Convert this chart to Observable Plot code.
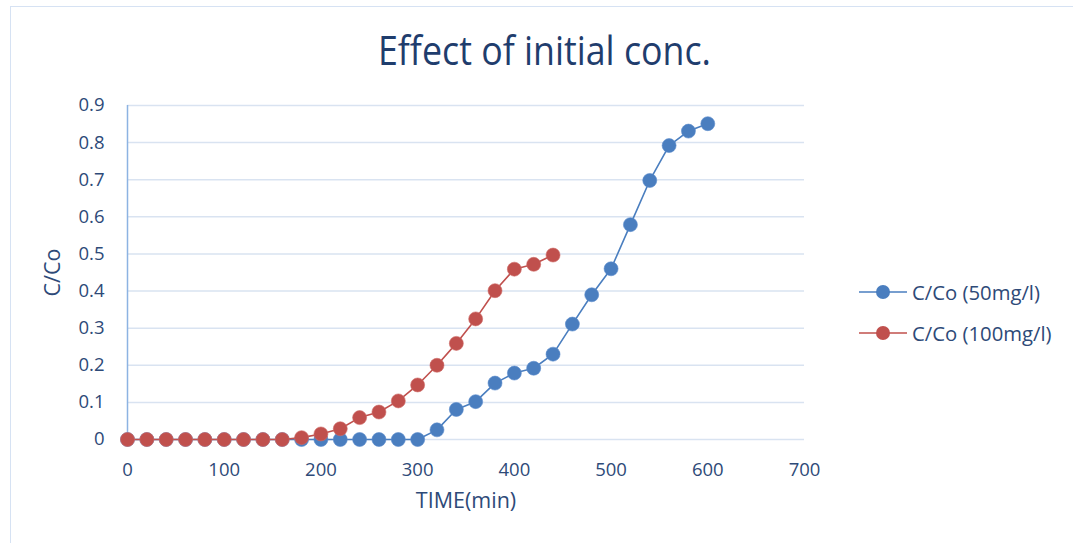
<!DOCTYPE html>
<html>
<head>
<meta charset="utf-8">
<script src="https://cdn.jsdelivr.net/npm/d3@7"></script>
<script src="https://cdn.jsdelivr.net/npm/@observablehq/plot@0.6"></script>
<style>
  html, body { margin: 0; padding: 0; background: #fff; }
  #chart { position: relative; width: 1073px; height: 543px; overflow: hidden; font-family: "Open Sans", sans-serif; }
  #frame { position: absolute; left: 10px; top: 6px; width: 1080px; height: 560px; border: 1.5px solid #d6e2f3; box-sizing: border-box; }
  #title { position: absolute; top: 22px; left: 0; white-space: nowrap; font-size: 40px; color: #1f3d6d; transform-origin: 0 0; }
  #legend { position: absolute; left: 858px; top: 271px; font-size: 20.3px; color: #2e4a78; }
  .item { display: flex; align-items: center; height: 41px; }
  .item svg { margin-right: 4px; }
  #plot { position: absolute; left: 0; top: 0; }
</style>
</head>
<body>
<div id="chart">
  <div id="frame"></div>
  <div id="plot"></div>
  <div id="title">Effect of initial conc.</div>
  <div id="legend"></div>
</div>
<script>
// Sampling times (min) and C/Co breakthrough values for the two initial concentrations
const time50 = [0, 20, 40, 60, 80, 100, 120, 140, 160, 180, 200, 220, 240, 260, 280, 300,
                320, 340, 360, 380, 400, 420, 440, 460, 480, 500, 520, 540, 560, 580, 600];
const cco50  = [0, 0, 0, 0, 0, 0, 0, 0, 0, 0, 0, 0, 0, 0, 0, 0,
                0.026, 0.081, 0.102, 0.152, 0.179, 0.192, 0.230, 0.311, 0.390, 0.460, 0.579, 0.698, 0.792, 0.831, 0.851];
const time100 = [0, 20, 40, 60, 80, 100, 120, 140, 160, 180, 200, 220, 240, 260, 280, 300,
                 320, 340, 360, 380, 400, 420, 440];
const cco100  = [0, 0, 0, 0, 0, 0, 0, 0, 0, 0.005, 0.015, 0.029, 0.059, 0.074, 0.104, 0.147,
                 0.200, 0.259, 0.325, 0.401, 0.459, 0.472, 0.497];
const seriesNames = ["C/Co (50mg/l)", "C/Co (100mg/l)"];
const seriesColors = ["#4a7ebf", "#c0504d"];
const xTicks = [0, 100, 200, 300, 400, 500, 600, 700];
const yTicks = [0, 0.1, 0.2, 0.3, 0.4, 0.5, 0.6, 0.7, 0.8, 0.9];

const s50 = time50.map((t, i) => ({t, v: cco50[i]}));
const s100 = time100.map((t, i) => ({t, v: cco100[i]}));

const textColor = "#2e4a78";

const chart = Plot.plot({
  width: 1073,
  height: 543,
  marginLeft: 127,
  marginRight: 269,
  marginTop: 105,
  marginBottom: 104,
  style: { fontFamily: "Open Sans, sans-serif", fontSize: "18.5px", color: textColor, background: "transparent" },
  x: { domain: [0, 700], ticks: xTicks, tickSize: 0, tickPadding: 23, label: null, tickFormat: d => String(d) },
  y: { domain: [0, 0.9], ticks: yTicks, tickSize: 0, tickPadding: 23, label: null, tickFormat: d => d === 0 ? "0" : d3.format(".1f")(d) },
  marks: [
    Plot.ruleY(yTicks, { stroke: "#d9e3f1", strokeWidth: 1.5 }),
    Plot.ruleX([0], { stroke: "#8db3e2", strokeWidth: 1.5 }),
    Plot.line(s50, { x: "t", y: "v", stroke: seriesColors[0], strokeWidth: 1.6 }),
    Plot.dot(s50, { x: "t", y: "v", r: 7, fill: seriesColors[0], stroke: "#5b8ccc", strokeWidth: 0.6 }),
    Plot.line(s100, { x: "t", y: "v", stroke: seriesColors[1], strokeWidth: 1.6 }),
    Plot.dot(s100, { x: "t", y: "v", r: 7, fill: seriesColors[1], stroke: "#cf6a67", strokeWidth: 0.6 }),
    Plot.text(["C/Co"], { frameAnchor: "left", textAnchor: "middle", lineAnchor: "middle", dx: -74, rotate: -90, fill: textColor, fontSize: 21.5 }),
    Plot.text(["TIME(min)"], { frameAnchor: "bottom", textAnchor: "middle", lineAnchor: "middle", dy: 62, fill: textColor, fontSize: 21.5 })
  ]
});
document.getElementById("plot").appendChild(chart);

// Legend: line-with-marker swatch followed by the series name
const legend = document.getElementById("legend");
seriesNames.forEach((name, i) => {
  const row = document.createElement("div");
  row.className = "item";
  row.innerHTML =
    `<svg width="50" height="16"><line x1="1" y1="8" x2="49" y2="8" stroke="${seriesColors[i]}" stroke-width="1.6"/>` +
    `<circle cx="25" cy="8" r="7" fill="${seriesColors[i]}"/></svg><span>${name}</span>`;
  legend.appendChild(row);
});

// Condensed title centred over the plot area
const title = document.getElementById("title");
const w = title.getBoundingClientRect().width;
const targetW = 333;
const k = targetW / w;
title.style.transform = `scale(${k}, 1)`;
title.style.left = "378px";
</script>
</body>
</html>
